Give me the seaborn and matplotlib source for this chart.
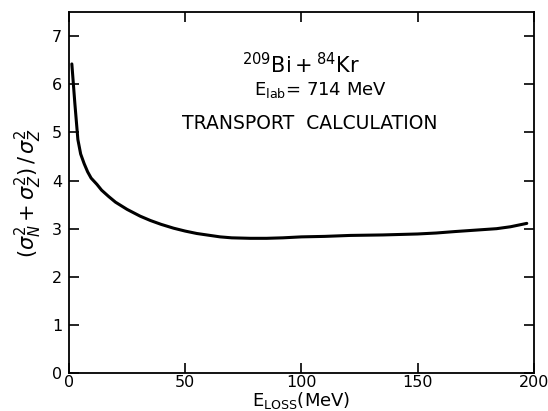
import numpy as np
import pandas as pd
import matplotlib
matplotlib.use("Agg")
import matplotlib.pyplot as plt
import seaborn as sns

# curve
e_loss = [1.2, 2.5, 3.8, 5.0, 6.5, 8.0, 9.5, 12, 14, 17, 20, 25, 30.6, 35, 39.6, 45, 50,
          55, 60.7, 65, 70, 78, 85, 92, 100, 110, 121, 135, 150, 158, 166, 175, 184, 190, 197]
ratio = [6.42, 5.6, 4.85, 4.55, 4.35, 4.18, 4.05, 3.92, 3.8, 3.67, 3.55, 3.4, 3.26, 3.17, 3.09,
         3.01, 2.95, 2.9, 2.86, 2.83, 2.81, 2.80, 2.80, 2.81, 2.83, 2.84, 2.86, 2.87, 2.89, 2.91,
         2.94, 2.97, 3.0, 3.04, 3.11]

x_ticks = [0, 50, 100, 150, 200]
y_ticks = [0, 1, 2, 3, 4, 5, 6, 7]

df = pd.DataFrame({"E": e_loss, "R": ratio})

sns.set_style("ticks")
plt.rcParams['font.family'] = ['DejaVu Sans']
plt.rcParams['mathtext.fontset'] = 'dejavusans'
plt.rcParams['text.color'] = 'black'
plt.rcParams['axes.labelcolor'] = 'black'

fig = plt.figure(figsize=(5.48, 4.11), dpi=100)
ax = fig.add_axes([0.126, 0.092, 0.848, 0.879])

sns.lineplot(data=df, x="E", y="R", ax=ax, color="black", linewidth=2.2)

ax.set_xlim(0, 200)
ax.set_ylim(0, 7.5)
ax.set_xticks(x_ticks)
ax.set_yticks(y_ticks)
ax.tick_params(direction="in", length=7, width=1.2, top=True, right=True,
               labelsize=11.5, colors="black")
ax.tick_params(axis="x", pad=1)
ax.tick_params(axis="y", pad=5)
for s in ax.spines.values():
    s.set_linewidth(1.3)
    s.set_color("black")

ax.set_xlabel(r"$\mathrm{E_{LOSS}}$(MeV)", fontsize=13, labelpad=0)
ax.set_ylabel(r"$(\sigma_N^2+\sigma_Z^2)\,/\,\sigma_Z^2$", fontsize=15, labelpad=6)

ax.text(100, 6.4, r"$\mathrm{^{209}Bi + ^{84}Kr}$", ha="center", va="center", fontsize=15)
ax.text(108, 5.88, r"$\mathrm{E_{lab}}$= 714 MeV", ha="center", va="center", fontsize=13)
ax.text(103.5, 5.18, "TRANSPORT  CALCULATION", ha="center", va="center", fontsize=13.5)

fig.savefig("out.png", dpi=100)
